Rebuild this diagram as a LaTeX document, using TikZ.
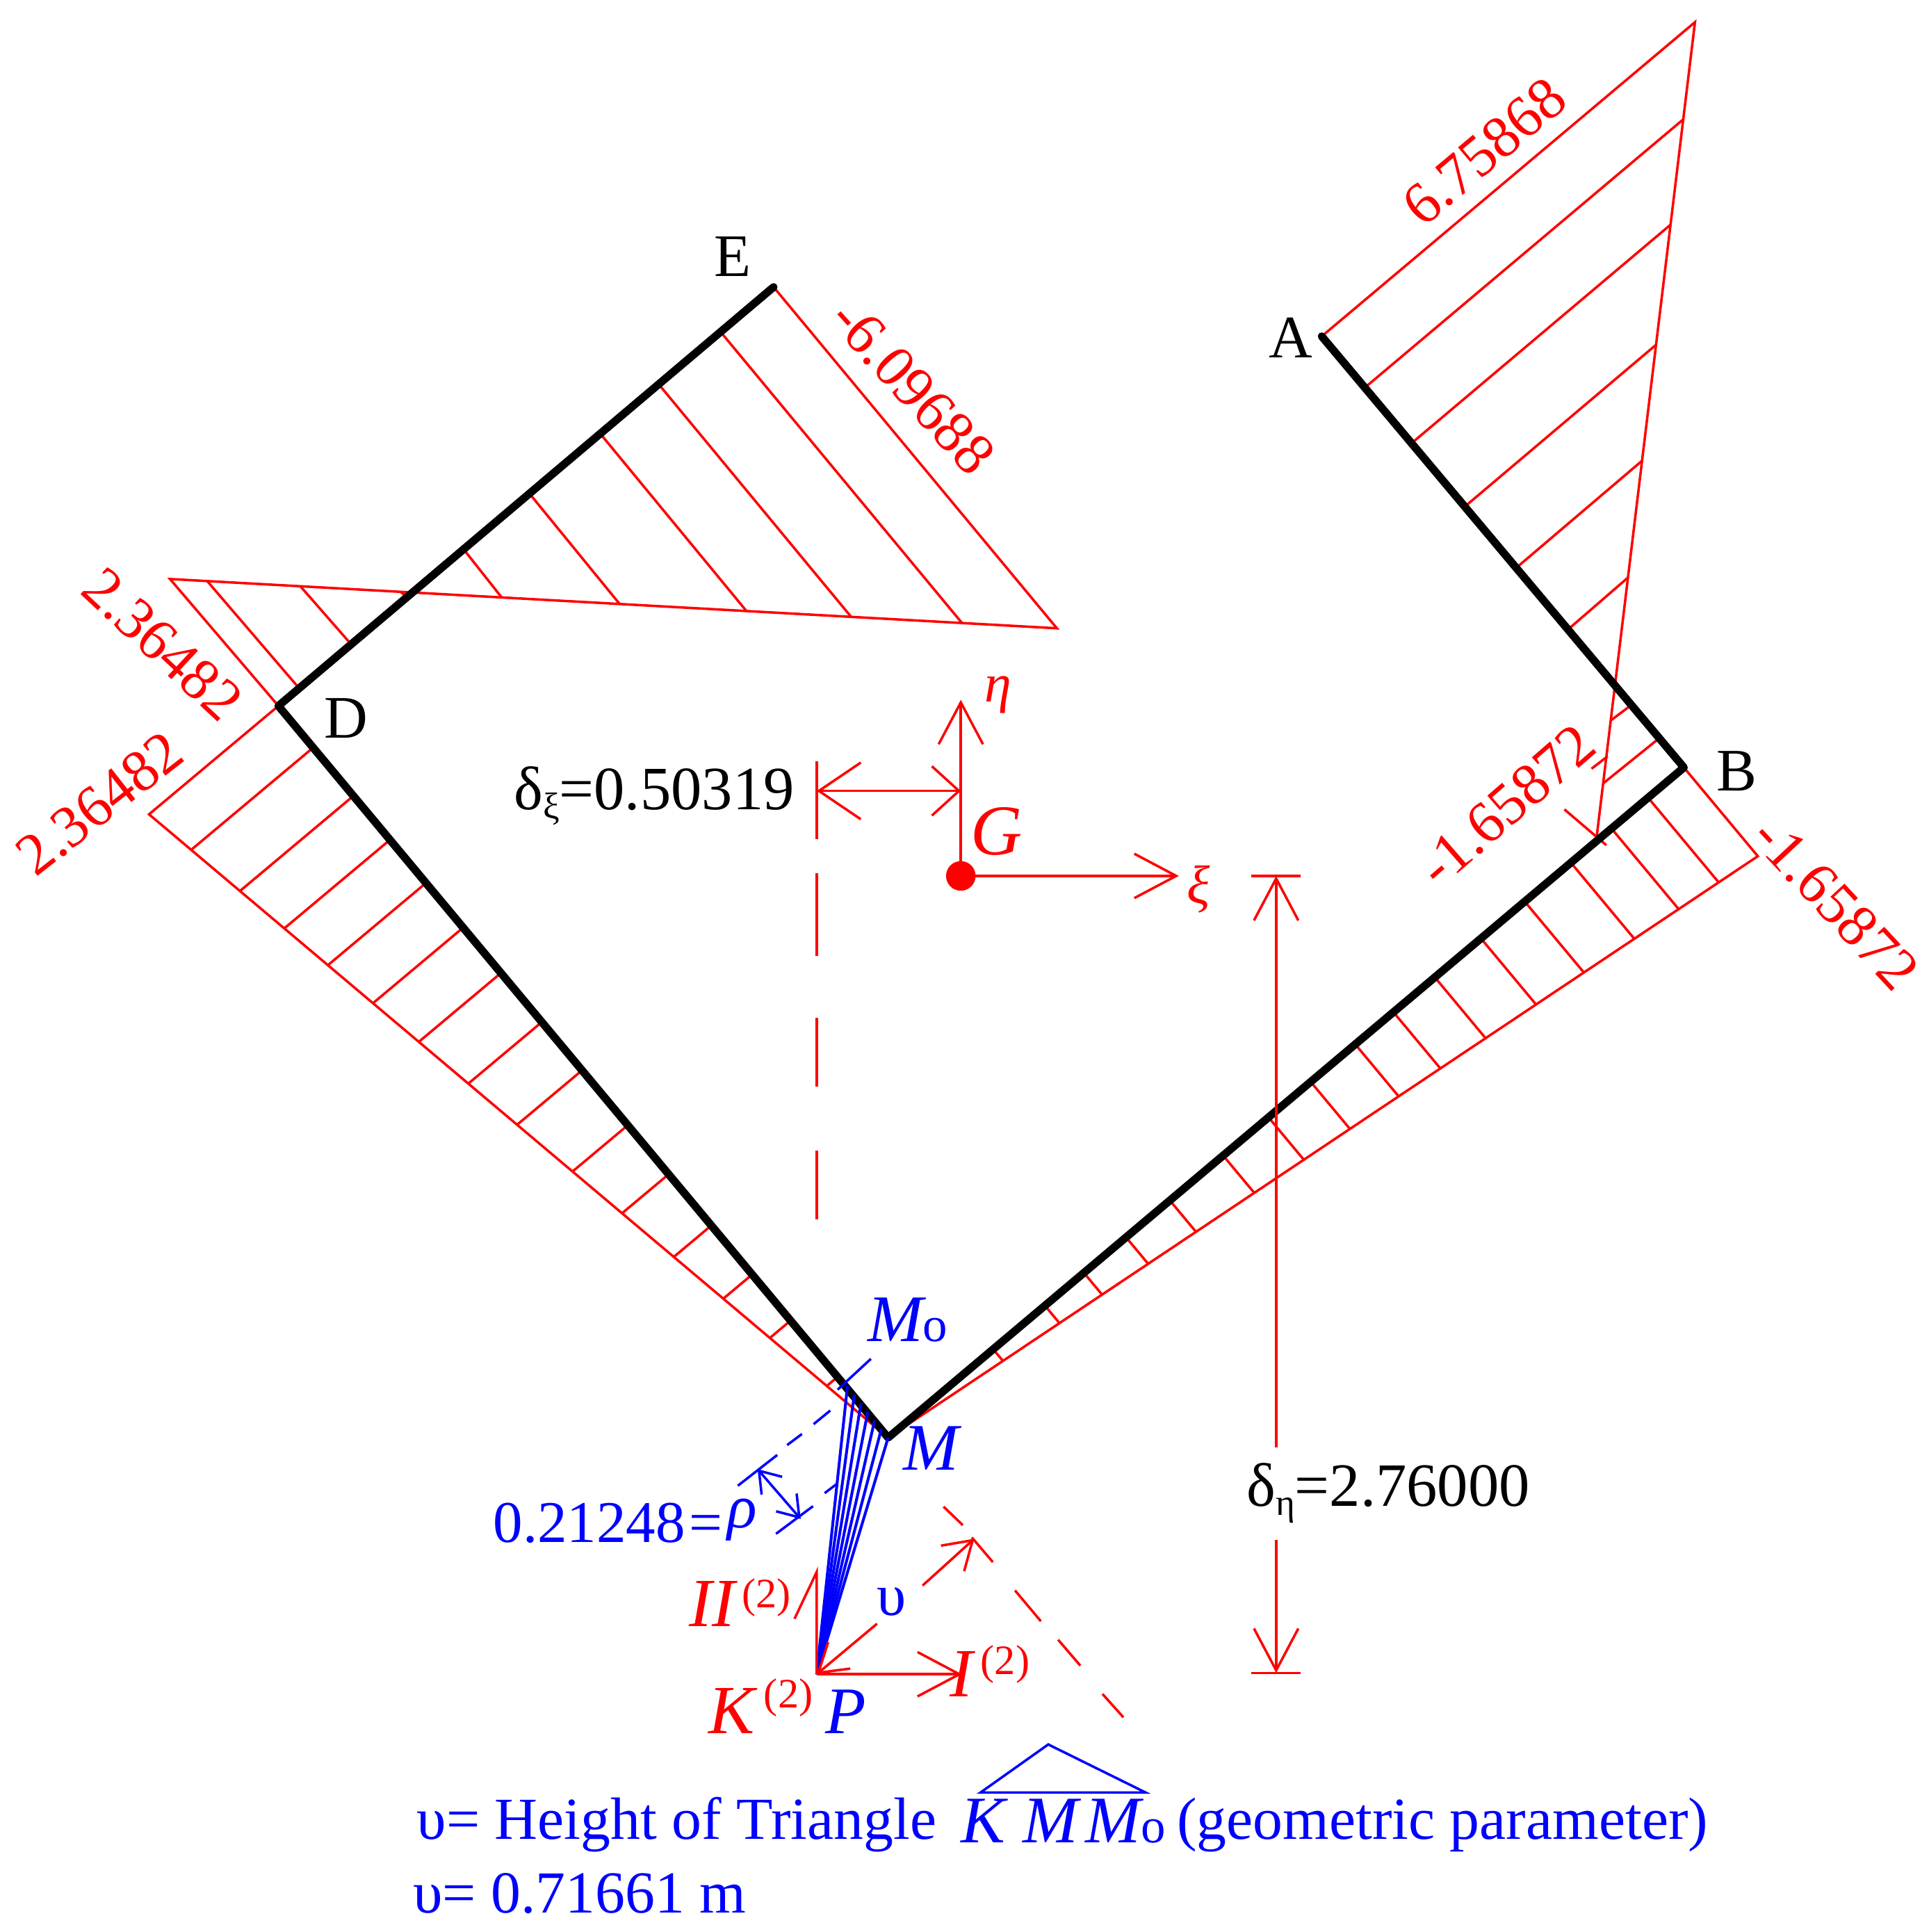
\documentclass[tikz,border=0pt]{standalone}
\usepackage{fontspec}
\setmainfont{Liberation Serif}
\usetikzlibrary{calc,arrows.meta}
\tikzset{
  thinred/.style={draw=rd,line width=1pt},
  thinblue/.style={draw=bl,line width=1pt},
  fanline/.style={draw=bl,line width=1.15pt},
  beam/.style={draw=black,line width=3.2pt,line cap=round,line join=round},
  bigbarb/.style={thinred,arrows={-Straight Barb[length=17pt,width=18pt]}},
  smallbarb/.style={thinred,arrows={-Straight Barb[length=11pt,width=14pt]}},
  lab/.style={inner sep=0pt,font=\fontsize{24.5}{28}\selectfont},
  dim/.style={inner sep=0pt,font=\fontsize{25}{28}\selectfont},
  val/.style={inner sep=0pt,text=rd,font=\fontsize{24}{28}\selectfont},
  rlab/.style={inner sep=0pt,text=rd,anchor=base west,font=\fontsize{28}{30}\selectfont\itshape},
  rsup/.style={inner sep=0pt,text=rd,font=\fontsize{17}{20}\selectfont},
  blab/.style={inner sep=0pt,text=bl,anchor=base west,font=\fontsize{27}{30}\selectfont\itshape},
  btxt/.style={inner sep=0pt,text=bl,anchor=base west,font=\fontsize{24.2}{28}\selectfont},
}
\definecolor{rd}{RGB}{255,0,0}
\definecolor{bl}{RGB}{0,0,255}
\begin{document}
\begin{tikzpicture}[x=0.5pt,y=-0.5pt]
\useasboundingbox (0,0) rectangle (1566,1568.26);
% key points
\coordinate (A) at (1073,273);
\coordinate (B) at (1367,623);
\coordinate (M) at (721,1167);
\coordinate (D) at (226,573);
\coordinate (E) at (628,233);
\coordinate (Ap) at (1376,18);
\coordinate (C) at (1296,681);
\coordinate (Bp) at (1427,695);
\coordinate (Dp) at (121,661);
\coordinate (Dq) at (138,470);
\coordinate (Ep) at (858,510);
\coordinate (G) at (780,711);
\coordinate (P) at (663,1359);
\coordinate (Mo) at (688,1125);
% stress diagrams
\draw[thinred] (A)--(Ap)--(C);
\foreach \t in {.119,.248,.395,.537,.68,.855,.932}
  \draw[thinred] ($(A)!\t!(B)$) -- ($(Ap)!\t!(C)$);
\coordinate (t1) at (1292,624);
\coordinate (t2) at (1305,614);
\draw[thinred] (t1)--(t2);
\coordinate (t3) at (1270,657);
\coordinate (t4) at (1304,686);
\draw[thinred] (t3)--(t4);
\draw[thinred] (B)--(Bp)--(M);
\foreach \t in {.955,.909,.858,.800,.745,.687,.635,.587,.531,.478,.421,.354,.299,.246,.197,.132}
  \draw[thinred] ($(M)!\t!(B)$) -- ($(M)!\t!(Bp)$);
\draw[thinred] (D)--(Dp)--(M);
\foreach \t in {.943,.877,.817,.758,.697,.635,.568,.502,.427,.36,.29,.223,.16,.083}
  \draw[thinred] ($(M)!\t!(D)$) -- ($(M)!\t!(Dp)$);
\draw[thinred] (D)--(Dq)--(Ep)--(E);
\foreach \t in {.042,.147,.26,.374,.507,.65,.768,.893}
  \draw[thinred] ($(D)!\t!(E)$) -- ($(Dq)!\t!(Ep)$);
% section
\draw[beam] (A)--(B)--(M)--(D)--(E);
% axes through G
\coordinate (etaT) at (780,568);
\coordinate (xiT) at (957,711);
\draw[bigbarb] (G)--(etaT);
\draw[bigbarb] (G)--(xiT);
\fill[rd] (G) circle (6pt);
\coordinate (dxL) at (663,642);
\coordinate (dxR) at (780,642);
\draw[thinred,arrows={Straight Barb[length=17pt,width=23pt]-Straight Barb[length=11pt,width=20pt]}] (dxL)--(dxR);
\foreach \a/\b in {618/681,709/776,826/882,934/990}{
  \coordinate (da) at (663,\a);
  \coordinate (db) at (663,\b);
  \draw[thinred] (da)--(db);
}
% eta dimension
\coordinate (e1a) at (1016,711);
\coordinate (e1b) at (1056,711);
\coordinate (e2a) at (1016,1358);
\coordinate (e2b) at (1056,1358);
\coordinate (e1) at (1036,711);
\coordinate (e2) at (1036,1358);
\coordinate (e1g) at (1036,1175);
\coordinate (e2g) at (1036,1250);
\draw[thinred] (e1a)--(e1b);
\draw[thinred] (e2a)--(e2b);
\draw[bigbarb] (e1g)--(e1);
\draw[bigbarb] (e2g)--(e2);
% blue fan
\foreach \t in {0,.167,.333,.5,.667,.833,1}
  \draw[fanline] (P) -- ($(Mo)!\t!(M)$);
% blue dashed radii
\foreach \ax/\ay/\bx/\by in {707/1103/680/1128,674/1145/660.5/1156,651/1164/639/1173,631/1181/599/1206,680/1204/669.5/1212,660/1222.6/630/1245}{
  \coordinate (ba) at (\ax,\ay);
  \coordinate (bb) at (\bx,\by);
  \draw[thinblue] (ba)--(bb);
}
\coordinate (r1) at (615,1192.5);
\coordinate (r2) at (650,1233);
\draw[thinblue,arrows={Straight Barb[length=8pt,width=11pt]-Straight Barb[length=8pt,width=11pt]}] (r1)--(r2);
% local axes at P
\coordinate (IIT) at (663,1276);
\coordinate (IIb) at (645,1314);
\coordinate (IT) at (781,1359);
\draw[thinred] (P)--(IIT)--(IIb);
\draw[bigbarb] (P)--(IT);
\coordinate (u1) at (712,1318);
\coordinate (u2) at (749,1287);
\coordinate (u3) at (791,1249);
\draw[smallbarb] (u1)--(P);
\draw[smallbarb] (u2)--(u3);
\foreach \ax/\ay/\bx/\by in {766/1223/781.6/1238,789/1248/806/1268,824/1291/845/1316,859/1331/877/1352,895/1375/912/1394}{
  \coordinate (ra) at (\ax,\ay);
  \coordinate (rb) at (\bx,\by);
  \draw[thinred] (ra)--(rb);
}
% labels
\node[lab] (lA) at (1048,274) {A};
\node[lab] (lB) at (1410,626) {B};
\node[lab] (lE) at (595,208) {E};
\node[lab] (lD) at (281,583) {D};
\node[val,rotate=40] (v1) at (1205,123) {6.75868};
\node[val,rotate=-48] (v2) at (741,314) {-6.09688};
\node[val,rotate=-43] (v3) at (132,523) {2.36482};
\node[val,rotate=38] (v4) at (81,652) {2.36482};
\node[val,rotate=41] (v5) at (1223,654) {-1.65872};
\node[val,rotate=-47] (v6) at (1490,733) {-1.65872};
\node[dim] (dx) at (531,646) {δ\raisebox{-0.3ex}{\fontsize{15}{15}\selectfont ξ}=0.50319};
\node[dim] (de) at (1127,1212) {δ\raisebox{-0.3ex}{\fontsize{15}{15}\selectfont η}=2.76000};
\node[inner sep=0pt,text=rd,font=\fontsize{29}{30}\selectfont\itshape] (lG) at (809,675) {G};
\node[inner sep=0pt,text=rd,font=\fontsize{22}{26}\selectfont\itshape] (leta) at (810,564) {η};
\node[inner sep=0pt,text=rd,font=\fontsize{22}{26}\selectfont\itshape] (lxi) at (973,722) {ξ};
% point labels near P
\node[blab] (lMo) at (704,1089) {M\fontsize{20}{20}\selectfont\upshape o};
\node[blab] (lM) at (733,1193) {M};
\node[blab] (lP) at (670,1407) {P};
\node[rlab] (lK) at (575,1407) {K};
\node[rsup] (sK) at (640,1378) {(2)};
\node[rlab] (lI) at (771,1377) {I};
\node[rsup] (sI) at (816,1351) {(2)};
\node[rlab] (lII) at (559,1320) {II};
\node[rsup] (sII) at (622,1297) {(2)};
\node[inner sep=0pt,text=bl,font=\fontsize{24}{26}\selectfont] (lu) at (724,1300) {υ};
\node[inner sep=0pt,text=bl,anchor=base west,font=\fontsize{24}{28}\selectfont] (rho) at (400,1252) {0.21248\kern1.5pt=\kern2pt\raisebox{6pt}{\fontsize{25}{28}\selectfont\itshape ρ}};
% bottom caption
\node[btxt] (c1) at (338,1493) {υ= Height of Triangle};
\node[blab] (c2K) at (780,1496) {K};
\node[blab] (c2M) at (830,1496) {M};
\node[blab] (c2Mo) at (881,1496) {M\fontsize{20}{20}\selectfont\upshape o};
\node[btxt] (c3) at (955,1493) {(geometric parameter)};
\node[btxt] (c4) at (335,1553) {υ= 0.71661 m};
\coordinate (h1) at (796,1455);
\coordinate (h2) at (851,1416);
\coordinate (h3) at (930,1455);
\draw[thinblue] (h1)--(h2)--(h3)--cycle;
\end{tikzpicture}
\end{document}
